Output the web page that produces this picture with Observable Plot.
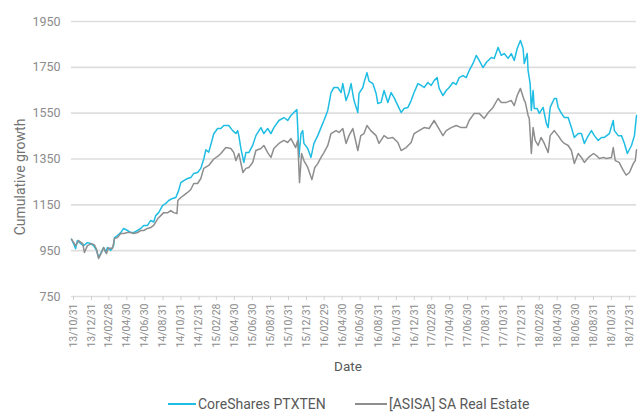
<!DOCTYPE html>
<html><head><meta charset="utf-8">
<script src="https://cdn.jsdelivr.net/npm/d3@7"></script>
<script src="https://cdn.jsdelivr.net/npm/@observablehq/plot@0.6"></script>
<style>
body{margin:0;background:#fff;font-family:Roboto,sans-serif;}
#chart svg{display:block;}
#legend{position:relative;height:18px;font-size:14px;color:#595959;}
.item{position:absolute;top:1px;display:flex;align-items:center;height:18px;white-space:nowrap;}
.sw{display:inline-block;height:2px;margin-right:2px;}
</style></head><body>
<div id="chart"></div>
<div id="legend">
  <div class="item" style="left:168px"><span class="sw" style="width:28px;background:#1fbde3"></span>CoreShares PTXTEN</div>
  <div class="item" style="left:355px"><span class="sw" style="width:32px;background:#8e8e8e"></span>[ASISA] SA Real Estate</div>
</div>
<script>
const seriesNames = ["CoreShares PTXTEN", "[ASISA] SA Real Estate"];
const seriesColors = ["#1fbde3", "#8e8e8e"];

const ptxDates = ["2013-10-31","2013-11-07","2013-11-14","2013-11-20","2013-12-01","2013-12-11","2013-12-24","2014-01-04","2014-01-14","2014-01-24",
"2014-01-31","2014-02-07","2014-02-17","2014-02-24","2014-03-02","2014-03-13","2014-03-23","2014-03-26","2014-04-05","2014-04-16",
"2014-04-26","2014-05-09","2014-05-20","2014-05-30","2014-06-12","2014-06-23","2014-07-03","2014-07-16","2014-07-27","2014-08-06",
"2014-08-13","2014-08-23","2014-09-05","2014-09-16","2014-09-26","2014-10-09","2014-10-20","2014-10-30","2014-11-06","2014-11-16",
"2014-11-29","2014-12-10","2014-12-20","2015-01-02","2015-01-13","2015-01-23","2015-01-30","2015-02-09","2015-02-26","2015-03-11",
"2015-03-22","2015-04-01","2015-04-18","2015-05-01","2015-05-12","2015-05-18","2015-05-22","2015-05-29","2015-06-08","2015-06-15",
"2015-06-25","2015-07-08","2015-07-19","2015-08-05","2015-08-15","2015-08-28","2015-09-08","2015-09-18","2015-10-05","2015-10-22",
"2015-11-04","2015-11-15","2015-11-25","2015-12-05","2015-12-08","2015-12-12","2015-12-19","2015-12-25","2015-12-29","2016-01-11",
"2016-01-22","2016-02-01","2016-02-14","2016-02-25","2016-03-06","2016-03-19","2016-03-30","2016-04-09","2016-04-22","2016-05-03",
"2016-05-09","2016-05-20","2016-05-30","2016-06-06","2016-06-16","2016-06-29","2016-07-03","2016-07-16","2016-07-20","2016-07-30",
"2016-08-06","2016-08-19","2016-08-30","2016-09-05","2016-09-16","2016-09-26","2016-10-09","2016-10-20","2016-10-30","2016-11-12",
"2016-11-23","2016-12-03","2016-12-16","2016-12-27","2017-01-06","2017-01-19","2017-01-30","2017-02-09","2017-02-22","2017-03-05",
"2017-03-15","2017-03-25","2017-04-01","2017-04-14","2017-04-25","2017-05-05","2017-05-18","2017-05-29","2017-06-08","2017-06-21",
"2017-07-02","2017-07-12","2017-07-25","2017-08-05","2017-08-15","2017-08-28","2017-09-08","2017-09-25","2017-10-05","2017-10-18",
"2017-10-29","2017-11-08","2017-11-21","2017-12-02","2017-12-12","2017-12-22","2018-01-02","2018-01-11","2018-01-15","2018-01-25",
"2018-01-28","2018-02-04","2018-02-08","2018-02-14","2018-02-18","2018-02-28","2018-03-07","2018-03-20","2018-03-31","2018-04-06",
"2018-04-13","2018-04-27","2018-05-04","2018-05-10","2018-05-21","2018-05-31","2018-06-13","2018-06-24","2018-07-04","2018-07-17",
"2018-07-28","2018-08-07","2018-08-17","2018-08-31","2018-09-10","2018-09-23","2018-10-04","2018-10-14","2018-10-31","2018-11-13",
"2018-11-17","2018-11-30","2018-12-11","2018-12-21","2018-12-31","2019-01-14","2019-01-24","2019-01-31"];
const ptxValues = [1000,981,959,994,981,972,985,981,972,951,
920,937,964,942,964,951,972,1007,1016,1029,
1047,1038,1029,1029,1038,1047,1060,1060,1082,1075,
1103,1116,1147,1156,1169,1178,1182,1213,1247,1256,
1265,1269,1287,1291,1309,1350,1390,1380,1460,1483,
1483,1496,1496,1474,1461,1474,1452,1396,1335,1378,
1378,1409,1452,1487,1461,1483,1461,1487,1518,1531,
1518,1540,1553,1566,1487,1357,1461,1474,1418,1396,
1357,1418,1452,1487,1518,1562,1640,1662,1662,1640,
1679,1605,1640,1679,1605,1553,1636,1662,1684,1727,
1690,1679,1636,1592,1597,1649,1597,1640,1618,1583,
1553,1570,1575,1605,1640,1679,1671,1662,1684,1671,
1692,1705,1658,1627,1649,1662,1684,1675,1705,1714,
1705,1736,1767,1802,1780,1749,1771,1793,1789,1837,
1802,1810,1789,1810,1780,1832,1867,1832,1767,1810,
1736,1679,1562,1649,1570,1570,1549,1575,1505,1487,
1575,1614,1614,1575,1549,1531,1531,1487,1444,1461,
1461,1418,1444,1474,1452,1431,1444,1444,1461,1518,
1474,1452,1452,1418,1374,1409,1452,1540];

const asisaDates = ["2013-10-31","2013-11-14","2013-11-24","2013-12-08","2013-12-14","2013-12-24","2014-01-07","2014-01-17","2014-01-24","2014-01-31",
"2014-02-10","2014-02-17","2014-02-27","2014-03-05","2014-03-19","2014-03-26","2014-04-05","2014-04-16","2014-04-26","2014-05-09",
"2014-05-20","2014-05-30","2014-06-12","2014-06-23","2014-07-03","2014-07-16","2014-07-27","2014-08-06","2014-08-20","2014-08-30",
"2014-09-09","2014-09-23","2014-10-03","2014-10-13","2014-10-24","2014-10-27","2014-11-06","2014-11-16","2014-11-29","2014-12-10",
"2014-12-20","2015-01-02","2015-01-13","2015-01-23","2015-02-09","2015-02-26","2015-03-15","2015-03-22","2015-04-08","2015-04-25",
"2015-05-05","2015-05-12","2015-05-22","2015-06-05","2015-06-15","2015-06-25","2015-07-08","2015-07-19","2015-08-05","2015-08-15",
"2015-08-28","2015-09-08","2015-09-18","2015-10-05","2015-10-22","2015-11-04","2015-11-15","2015-12-01","2015-12-08","2015-12-14",
"2015-12-21","2015-12-29","2016-01-11","2016-01-25","2016-02-04","2016-02-14","2016-02-25","2016-03-06","2016-03-19","2016-03-30",
"2016-04-16","2016-04-26","2016-05-09","2016-05-20","2016-05-30","2016-06-12","2016-06-29","2016-07-09","2016-07-20","2016-07-30",
"2016-08-12","2016-08-30","2016-09-09","2016-09-26","2016-10-09","2016-10-26","2016-11-12","2016-11-23","2016-12-10","2016-12-27",
"2017-01-06","2017-01-23","2017-02-09","2017-02-26","2017-03-15","2017-03-29","2017-04-14","2017-04-25","2017-05-12","2017-05-29",
"2017-06-15","2017-07-02","2017-07-12","2017-07-29","2017-08-15","2017-09-01","2017-09-15","2017-10-01","2017-10-18","2017-10-29",
"2017-11-15","2017-12-02","2017-12-12","2017-12-22","2018-01-02","2018-01-15","2018-01-18","2018-01-28","2018-02-01","2018-02-08",
"2018-02-14","2018-02-21","2018-03-03","2018-03-13","2018-03-24","2018-04-06","2018-04-13","2018-04-27","2018-05-10","2018-05-21",
"2018-05-31","2018-06-13","2018-06-24","2018-07-04","2018-07-17","2018-07-28","2018-08-07","2018-08-21","2018-09-07","2018-09-17",
"2018-09-27","2018-10-11","2018-10-21","2018-11-07","2018-11-13","2018-11-20","2018-12-03","2018-12-17","2018-12-27","2019-01-07",
"2019-01-20","2019-01-27","2019-01-31"];
const asisaValues = [1000,972,994,981,942,972,981,975,955,916,
942,964,937,962,959,1003,1007,1025,1025,1029,
1029,1025,1029,1038,1038,1047,1051,1060,1090,1103,
1116,1116,1125,1116,1112,1169,1182,1191,1204,1217,
1243,1243,1265,1309,1322,1350,1365,1374,1400,1396,
1378,1343,1374,1291,1309,1313,1335,1387,1396,1409,
1378,1357,1396,1418,1431,1422,1439,1400,1431,1247,
1374,1343,1313,1260,1313,1330,1357,1378,1409,1461,
1474,1466,1483,1418,1452,1483,1387,1452,1461,1496,
1474,1452,1418,1452,1440,1444,1422,1387,1400,1422,
1461,1474,1487,1483,1518,1487,1452,1474,1487,1496,
1487,1487,1518,1549,1549,1527,1553,1575,1614,1597,
1597,1605,1583,1627,1658,1605,1600,1540,1527,1374,
1487,1431,1409,1444,1418,1378,1452,1474,1452,1431,
1418,1409,1387,1330,1374,1357,1335,1357,1374,1365,
1352,1357,1352,1357,1400,1343,1335,1300,1280,1291,
1330,1343,1390];

const yTicks = [750, 950, 1150, 1350, 1550, 1750, 1950];
const xTickDates = ["2013-10-31","2013-12-31","2014-02-28","2014-04-30","2014-06-30","2014-08-31","2014-10-31","2014-12-31",
"2015-02-28","2015-04-30","2015-06-30","2015-08-31","2015-10-31","2015-12-31","2016-02-29","2016-04-30","2016-06-30",
"2016-08-31","2016-10-31","2016-12-31","2017-02-28","2017-04-30","2017-06-30","2017-08-31","2017-10-31","2017-12-31",
"2018-02-28","2018-04-30","2018-06-30","2018-08-31","2018-10-31","2018-12-31"];
const xDomain = ["2013-10-31", "2019-01-31"];

const parse = d3.utcParse("%Y-%m-%d");
const rows = [];
ptxDates.forEach((d, i) => rows.push({date: parse(d), value: ptxValues[i], series: seriesNames[0]}));
asisaDates.forEach((d, i) => rows.push({date: parse(d), value: asisaValues[i], series: seriesNames[1]}));

const chart = Plot.plot({
  width: 642,
  height: 394,
  marginLeft: 71,
  marginRight: 6,
  marginTop: 21,
  marginBottom: 98,
  style: {fontFamily: "Roboto, sans-serif", color: "#8c8c8c", background: "#fff"},
  x: {type: "utc", domain: xDomain.map(parse)},
  y: {domain: [750, 1950]},
  color: {domain: seriesNames, range: seriesColors},
  marks: [
    Plot.ruleY(yTicks, {stroke: "#dedede", strokeWidth: 1.6}),
    Plot.axisY({ticks: yTicks, tickFormat: d => String(d), tickSize: 0, tickPadding: 11, fontSize: 12.5, label: null}),
    Plot.axisX({ticks: xTickDates.map(parse), tickFormat: d3.utcFormat("%y/%m/%d"), tickRotate: -90,
      tickSize: 4, tickPadding: 3, fontSize: 10.5, label: null, stroke: "#d0d0d0", dx: 2}),
    Plot.lineY(rows, {x: "date", y: "value", z: "series", stroke: "series", strokeWidth: 1.5}),
    Plot.text(["Cumulative growth"], {frameAnchor: "left", textAnchor: "middle", rotate: -90, dx: -51, dy: 18, fontSize: 14, fill: "#737373"}),
    Plot.text(["Date"], {frameAnchor: "bottom", dx: -6, dy: 74, fontSize: 13.5, fill: "#595959"})
  ]
});
document.getElementById("chart").appendChild(chart);
</script>
</body></html>
